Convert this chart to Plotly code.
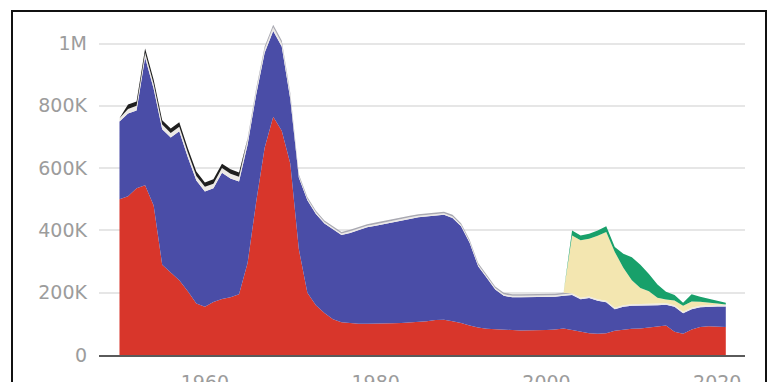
import plotly.graph_objects as go

years = list(range(1950, 2022))

# values in thousands (stack order bottom -> top)
red = [500, 510, 535, 545, 480, 290, 265, 240, 205, 165,
       155, 170, 180, 185, 195, 295, 490, 665, 765, 720,
       615, 340, 200, 160, 135, 115, 105, 102, 100, 100,
       100, 100, 102, 103, 104, 105, 108, 112, 113, 108,
       103, 95, 88, 84, 82, 80, 80, 79, 79, 80,
       80, 82, 85, 80, 75, 70, 68, 70, 78, 82,
       84, 85, 88, 92, 95, 75, 68, 82, 90, 92,
       90, 90]
blue = [250, 265, 250, 410, 375, 435, 433, 478, 430, 395,
        370, 365, 405, 382, 362, 380, 345, 305, 275, 270,
        207, 230, 297, 293, 287, 288, 280, 290, 302, 310,
        315, 321, 325, 329, 333, 337, 337, 335, 337, 332,
        310, 265, 197, 164, 128, 110, 105, 106, 106, 105,
        105, 105, 105, 113, 104, 113, 106, 99, 69, 73,
        74, 73, 70, 68, 66, 80, 66, 65, 63, 63,
        66, 66]
light = [10] + [15] * 14 + [12] * 6 + [5] * 32 + [5] * 19
gray = [0] * 15 + [8] * 6 + [5] * 32 + [0] * 19
dark = [0] + [14] * 14 + [0] * 57
cream = [0] * 53 + [186, 184, 185, 204, 221, 179, 120, 77, 52, 42,
                    19, 12, 15, 19, 20, 13, 9, 4, 1]
green = [0] * 53 + [16, 16, 16, 17, 18, 16, 45, 74, 75, 55,
                    42, 25, 18, 10, 23, 16, 11, 10, 6]

series = [
    ("red", red, "#d8362b"),
    ("blue", blue, "#4a4da7"),
    ("light", light, "#ece9e6"),
    ("gray", gray, "#a9a9b2"),
    ("dark", dark, "#1f1f1f"),
    ("cream", cream, "#f3e6b0"),
    ("green", green, "#18a06a"),
]

y_tickvals = [0, 200000, 400000, 600000, 800000, 1000000]
y_ticktext = ["0", "200K", "400K", "600K", "800K", "1M"]
x_tickvals = [1960, 1980, 2000, 2020]

fig = go.Figure()
for name, vals, color in series:
    fig.add_trace(go.Scatter(
        x=years, y=[v * 1000 for v in vals], name=name,
        mode="lines", stackgroup="one",
        line=dict(width=0, color=color), fillcolor=color,
        hoverinfo="skip", showlegend=False,
    ))

font = dict(family="DejaVu Sans", size=19, color="#9c9c9c")

fig.update_layout(
    width=779, height=382,
    margin=dict(l=91, r=42, t=7, b=35),
    paper_bgcolor="white", plot_bgcolor="white",
    showlegend=False,
    xaxis=dict(
        range=[1947.6, 2023.25], tickvals=x_tickvals,
        showgrid=False, zeroline=False, automargin=False,
        showline=True, linecolor="#5a5a5a", linewidth=2,
        ticks="", tickfont=font, ticklabelstandoff=9,
    ),
    yaxis=dict(
        range=[0, 1091500], tickvals=y_tickvals, ticktext=y_ticktext,
        showgrid=True, gridcolor="#e6e6e6", gridwidth=1.5,
        zeroline=False, showline=False, automargin=False,
        ticks="", tickfont=font, ticklabelstandoff=11,
    ),
    shapes=[dict(
        type="rect", xref="paper", yref="paper",
        x0=(12 - 99) / 646, x1=(766 - 99) / 646,
        y0=-0.3, y1=(355 - 11) / 340,
        line=dict(color="#111111", width=2), fillcolor="rgba(0,0,0,0)",
        layer="above",
    )],
)

fig.write_html("out.html")
